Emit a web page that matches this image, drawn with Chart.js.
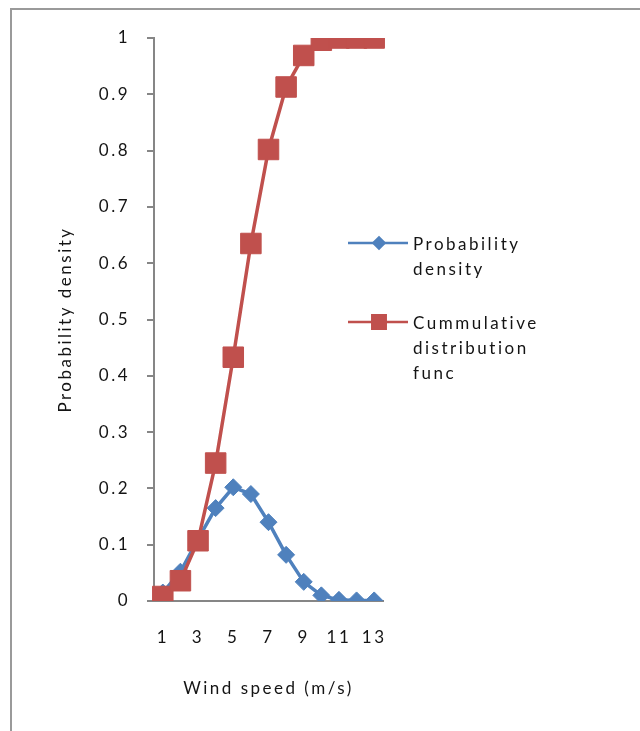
<!DOCTYPE html>
<html>
<head>
<meta charset="utf-8">
<script src="https://cdn.jsdelivr.net/npm/chart.js@4/dist/chart.umd.min.js"></script>
<style>
  html, body { margin: 0; padding: 0; background: #ffffff; overflow: hidden; }
  #wrap { position: relative; width: 640px; height: 731px; }
</style>
</head>
<body>
<div id="wrap"><canvas id="c" width="640" height="731"></canvas></div>
<script>
// Wind speed bins (m/s)
const windSpeed = ['1', '2', '3', '4', '5', '6', '7', '8', '9', '10', '11', '12', '13'];
// Probability density per bin
const probabilityDensity = [0.015, 0.052, 0.11, 0.165, 0.202, 0.19, 0.14, 0.082, 0.034, 0.01, 0.002, 0.001, 0.001];
// Cumulative distribution per bin
const cumulativeDistribution = [0.008, 0.036, 0.107, 0.245, 0.433, 0.635, 0.802, 0.913, 0.969, 0.996, 1.0, 1.0, 1.0];
// Y axis tick values
const yTicks = [0, 0.1, 0.2, 0.3, 0.4, 0.5, 0.6, 0.7, 0.8, 0.9, 1];

const BLUE = '#4F81BD';
const RED = '#C0504D';
const TEXT = '#141414';
const AXIS = '#868686';
const FONT = 'Lato, "Open Sans", sans-serif';
const SPACING = '2.5px';

const legendItems = [
  { lines: ['Probability', 'density'], color: BLUE, style: 'rectRot', y: 243, size: 5.5 },
  { lines: ['Cummulative', 'distribution', 'func'], color: RED, style: 'rect', y: 322, size: 9.5 }
];

// Outer frame, text spacing and the wrapped side legend
const decorations = {
  id: 'decorations',
  beforeDraw(chart) {
    const ctx = chart.ctx;
    ctx.letterSpacing = SPACING;
    ctx.save();
    ctx.strokeStyle = '#9a9a9a';
    ctx.lineWidth = 2;
    ctx.strokeRect(11, 9, 720, 800);
    ctx.restore();
  },
  afterDraw(chart) {
    const ctx = chart.ctx;
    ctx.save();
    legendItems.forEach(item => {
      ctx.strokeStyle = item.color;
      ctx.lineWidth = 2.5;
      ctx.beginPath();
      ctx.moveTo(348, item.y);
      ctx.lineTo(408, item.y);
      ctx.stroke();
      ctx.fillStyle = item.color;
      Chart.helpers.drawPoint(ctx, { pointStyle: item.style, radius: item.size, borderWidth: 1 }, 379, item.y);
      ctx.fill();
      ctx.fillStyle = TEXT;
      ctx.font = '17px ' + FONT;
      ctx.textAlign = 'left';
      ctx.textBaseline = 'middle';
      item.lines.forEach((t, i) => ctx.fillText(t, 413, item.y + 2 + i * 25));
    });
    ctx.restore();
  }
};

new Chart(document.getElementById('c'), {
  type: 'line',
  data: {
    labels: windSpeed,
    datasets: [
      {
        label: 'Cummulative distribution func',
        data: cumulativeDistribution,
        borderColor: RED,
        backgroundColor: RED,
        borderWidth: 3.5,
        pointStyle: 'rect',
        pointRadius: 14.5,
        pointBorderWidth: 1,
        pointBorderColor: RED,
        pointBackgroundColor: RED,
        tension: 0,
        order: 0
      },
      {
        label: 'Probability density',
        data: probabilityDensity,
        borderColor: BLUE,
        backgroundColor: BLUE,
        borderWidth: 3.5,
        pointStyle: 'rectRot',
        pointRadius: 8.5,
        pointBorderWidth: 1,
        pointBorderColor: BLUE,
        pointBackgroundColor: BLUE,
        tension: 0,
        order: 1
      }
    ]
  },
  plugins: [decorations],
  options: {
    responsive: false,
    animation: false,
    events: [],
    layout: { padding: { left: 0, top: 38, right: 257, bottom: 0 } },
    plugins: { legend: { display: false }, tooltip: { enabled: false } },
    scales: {
      x: {
        type: 'category',
        offset: true,
        afterFit(scale) { scale.height = 130; },
        grid: { display: false, drawTicks: false, drawOnChartArea: false },
        border: { display: true, color: AXIS, width: 2 },
        ticks: {
          autoSkip: false,
          maxRotation: 0,
          padding: 26,
          color: TEXT,
          font: { family: FONT, size: 17 },
          callback(value, index) { return index % 2 === 0 ? windSpeed[index] : ''; }
        },
        title: {
          display: true,
          text: 'Wind speed (m/s)',
          color: TEXT,
          font: { family: FONT, size: 17 },
          padding: { top: 0, bottom: 32 }
        }
      },
      y: {
        min: 0,
        max: 1,
        afterFit(scale) { scale.width = 154; },
        afterBuildTicks(scale) { scale.ticks = yTicks.map(v => ({ value: v })); },
        grid: { display: true, drawOnChartArea: false, drawTicks: true, tickLength: 7, color: AXIS, lineWidth: 2 },
        border: { display: true, color: AXIS, width: 2 },
        ticks: {
          padding: 17,
          color: TEXT,
          font: { family: FONT, size: 17 },
          callback(value) { return String(+value.toFixed(1)); }
        },
        title: {
          display: true,
          text: 'Probability density',
          color: TEXT,
          font: { family: FONT, size: 17 },
          padding: { top: 55, bottom: 0 }
        }
      }
    }
  }
});
</script>
</body>
</html>
